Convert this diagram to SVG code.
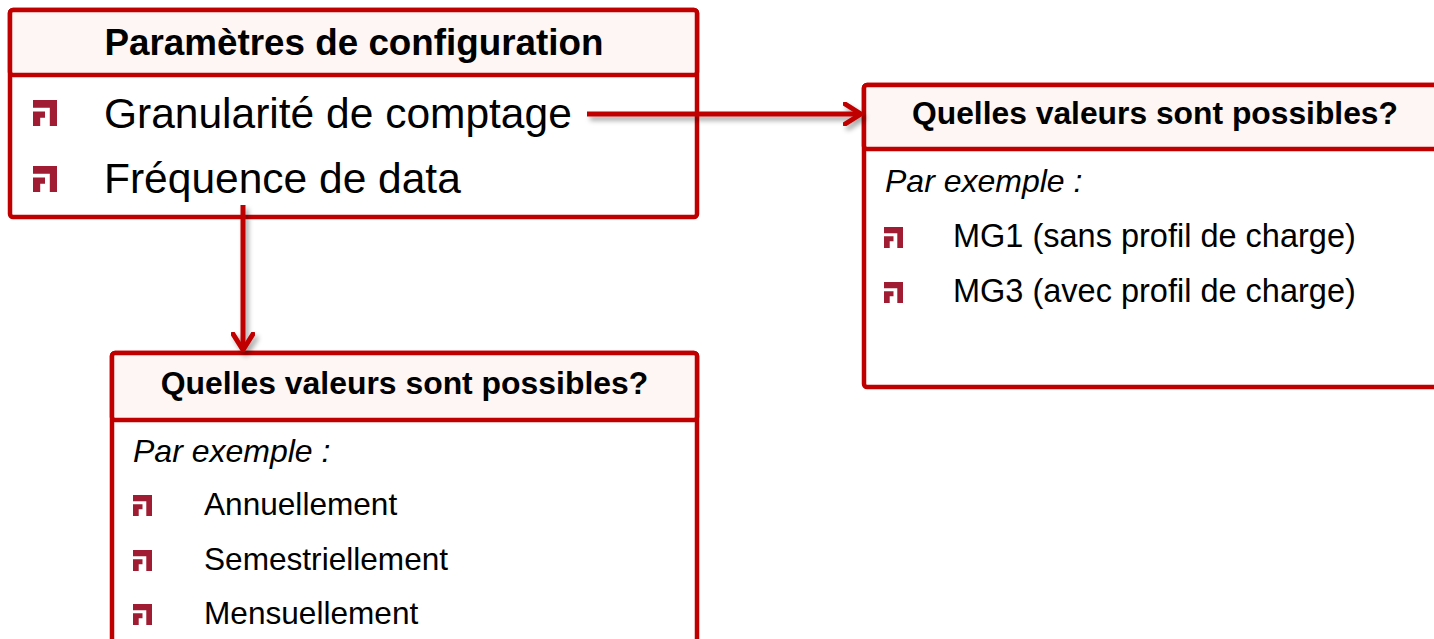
<svg xmlns="http://www.w3.org/2000/svg" width="1434" height="639" viewBox="0 0 1434 639">
<style>
.box{fill:#ffffff;stroke:#C00000;stroke-width:4.5}
.hdr{fill:#FDF6F4;stroke:#C00000;stroke-width:4.5}
.ht{font-family:"Liberation Sans",Arial,sans-serif;font-weight:bold;fill:#000;text-anchor:middle}
.t{font-family:"Liberation Sans",Arial,sans-serif;fill:#000}
.it{font-family:"Liberation Sans",Arial,sans-serif;font-style:italic;fill:#000}
.bul{fill:#A01C32}
.conn{fill:none;stroke:#C00000;stroke-width:5}
</style>
<defs>
<g id="bullet">
<path d="M0,0 H1 V1 H0.7 V0.3 H0 Z M0,0.44 H0.5 V0.68 H0.3 V1 H0 Z"/>
</g>
<marker id="chev" viewBox="0 0 20 24" refX="18" refY="12" markerWidth="20" markerHeight="24" markerUnits="userSpaceOnUse" orient="auto">
<path d="M2,2 L18,12 L2,22" fill="none" stroke="#C00000" stroke-width="5" stroke-linecap="round" stroke-linejoin="round"/>
</marker>
<filter id="sh" x="-10%" y="-50%" width="120%" height="200%">
<feDropShadow dx="3" dy="4" stdDeviation="2.5" flood-color="#000" flood-opacity="0.35"/>
</filter>
</defs>

<g id="node-config">
<rect class="box" x="10" y="10" width="687" height="207" rx="3"/>
<rect class="hdr" x="10" y="10" width="687" height="65" rx="3"/>
<text class="ht" x="354" y="55" font-size="36.8">Paramètres de configuration</text>
<use href="#bullet" class="bul" transform="translate(33,100) scale(24,26)"/>
<text class="t" x="104" y="128" font-size="42.5">Granularité de comptage</text>
<use href="#bullet" class="bul" transform="translate(33,166) scale(24,26)"/>
<text class="t" x="104" y="193" font-size="42.5">Fréquence de data</text>
</g>

<g id="node-granularite">
<rect class="box" x="864" y="85" width="620" height="302" rx="3"/>
<rect class="hdr" x="864" y="85" width="620" height="64" rx="3"/>
<text class="ht" x="1155" y="124" font-size="31.8">Quelles valeurs sont possibles?</text>
<text class="it" x="885" y="192" font-size="32">Par exemple :</text>
<use href="#bullet" class="bul" transform="translate(884,227) scale(19,21)"/>
<text class="t" x="953" y="247" font-size="32.5">MG1 (sans profil de charge)</text>
<use href="#bullet" class="bul" transform="translate(884,282) scale(19,21)"/>
<text class="t" x="953" y="302" font-size="32.5">MG3 (avec profil de charge)</text>
</g>

<g id="node-frequence">
<rect class="box" x="112" y="353" width="585" height="330" rx="3"/>
<rect class="hdr" x="112" y="353" width="585" height="67" rx="3"/>
<text class="ht" x="404.5" y="394" font-size="31.9">Quelles valeurs sont possibles?</text>
<text class="it" x="133" y="462" font-size="32">Par exemple :</text>
<use href="#bullet" class="bul" transform="translate(133,495) scale(19,21)"/>
<text class="t" x="204" y="515" font-size="31.6">Annuellement</text>
<use href="#bullet" class="bul" transform="translate(133,550) scale(19,21)"/>
<text class="t" x="204" y="570" font-size="31.6">Semestriellement</text>
<use href="#bullet" class="bul" transform="translate(133,604) scale(19,21)"/>
<text class="t" x="204" y="624" font-size="31.6">Mensuellement</text>
</g>

<g id="connectors" filter="url(#sh)">
<line class="conn" x1="587" y1="114" x2="861" y2="114" marker-end="url(#chev)"/>
<line class="conn" x1="243" y1="205" x2="243" y2="350" marker-end="url(#chev)"/>
</g>
</svg>
